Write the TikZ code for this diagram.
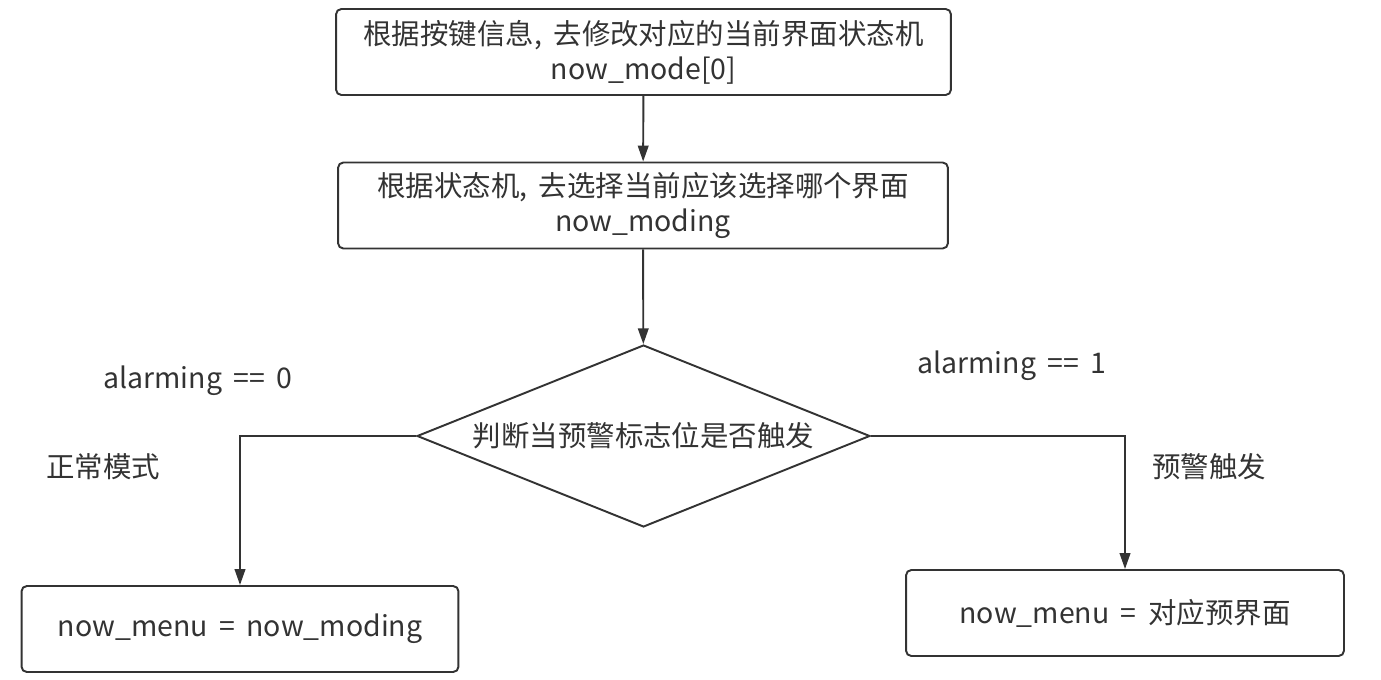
\documentclass[tikz,border=0pt]{standalone}
\usepackage{fontspec}
\setmainfont{Noto Sans CJK SC}[WordSpace=1.8]
\usepackage{tikz}
\usetikzlibrary{arrows.meta,positioning,shapes.geometric}
\definecolor{ink}{HTML}{333333}

\begin{document}
\begin{tikzpicture}[x=0.02cm,y=-0.02cm,
  every node/.style={text=ink,font=\fontsize{16.2}{20}\selectfont},
  box/.style={draw=ink,line width=1.1pt,rounded corners=3pt,align=center,minimum height=1.72cm},
  decide/.style={draw=ink,line width=1.1pt,diamond,aspect=2.5,inner sep=0pt,minimum width=9.06cm,minimum height=3.64cm},
  link/.style={draw=ink,line width=1.1pt,-{Triangle[length=9pt,width=6pt]}}]
\useasboundingbox (0,0) rectangle (1381,679);

% Boxes
\node[box,minimum width=12.3cm] (setmode) at (643.5,52) {根据按键信息, 去修改对应的当前界面状态机\\now\_mode[0]};
\node[box,minimum width=12.2cm] (choose) at (643,205.5) {根据状态机, 去选择当前应该选择哪个界面\\now\_moding};
\node[decide] (alarm) at (643.5,436) {判断当预警标志位是否触发};
\node[box,minimum width=8.74cm] (normal) at (240,629) {now\_menu = now\_moding};
\node[box,minimum width=8.76cm] (warn) at (1125,613) {now\_menu = 对应预界面};

% Labels
\node (zero) at (198,381) {alarming == 0};
\node (normaltxt) at (103,467) {正常模式};
\node (one) at (1012,366) {alarming == 1};
\node (warntxt) at (1209,467) {预警触发};

% Connectors
\draw[link] (setmode) -- (choose);
\draw[link] (choose) -- (alarm);
\draw[link] (alarm.west) -| (normal.north);
\draw[link] (alarm.east) -| (warn.north);
\end{tikzpicture}
\end{document}
